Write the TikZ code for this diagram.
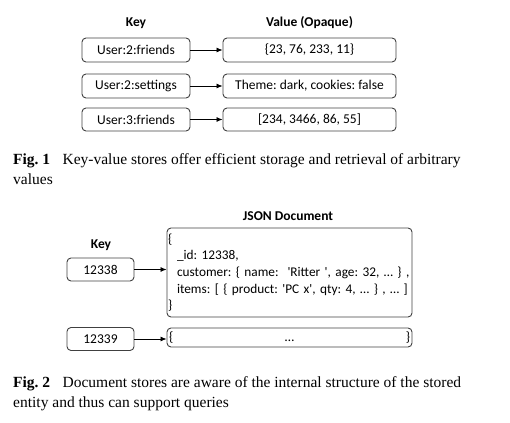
\documentclass[tikz,border=0pt]{standalone}
\usepackage{fontspec}
\setmainfont{Carlito}
\newfontfamily\capfont{Liberation Serif}
\usetikzlibrary{arrows.meta}
\frenchspacing
\begin{document}
\begin{tikzpicture}[x=1pt,y=-1pt,
  box/.style={draw=black!75, line width=0.9pt, rounded corners=4pt, inner sep=0pt, font=\fontsize{13.5}{16}\selectfont\frenchspacing},
  hdr/.style={font=\fontsize{13.5}{16}\selectfont\bfseries, inner sep=0pt},
  arr/.style={line width=0.8pt, -{Latex[length=6pt,width=5pt]}},
  captext/.style={font=\capfont\fontsize{15.5}{20}\selectfont, align=left, inner sep=0pt, anchor=north west}]
\useasboundingbox (0,0) rectangle (510,422);
% Fig 1
\node[hdr] (hkey) at (136,23) {Key};
\node[hdr] (hval) at (309.5,23) {Value (Opaque)};
\node[box, minimum width=108pt, minimum height=24pt] (k1) at (136,50) {User:2:friends};
\node[box, minimum width=108pt, minimum height=24pt] (k2) at (136,86) {User:2:settings};
\node[box, minimum width=108pt, minimum height=23pt] (k3) at (136,119.5) {User:3:friends};
\node[box, minimum width=173pt, minimum height=24pt] (v1) at (309.5,50) {\{23, 76, 233, 11\}};
\node[box, minimum width=173pt, minimum height=24pt] (v2) at (309.5,86) {Theme: dark, cookies: false};
\node[box, minimum width=173pt, minimum height=23pt] (v3) at (309.5,119.5) {[234, 3466, 86, 55]};
\draw[arr] (k1) -- (v1);
\draw[arr] (k2) -- (v2);
\draw[arr] (k3) -- (v3);
\node[captext] (cap1) at (13,153.5) {\textbf{Fig.\ 1}\hspace{0.8em}Key-value stores offer efficient storage and retrieval of arbitrary\\values};
% Fig 2
\node[hdr] (hjson) at (288,216) {JSON Document};
\node[hdr] (hkey2) at (101,245) {Key};
\node[box, minimum width=67pt, minimum height=23pt] (d1k) at (100.5,269.5) {12338};
\node[box, minimum width=67pt, minimum height=23pt] (d2k) at (100.5,339) {12339};
\node[box, font=\fontsize{13.3}{16}\selectfont\frenchspacing, minimum width=245pt, minimum height=89pt, text width=243pt, align=left, inner xsep=1pt] (d1) at (289.5,272.5)
  {\mbox{\{}\\[0.6pt]\mbox{\hspace*{9pt}\_id: 12338,}\\[0.6pt]\mbox{\hspace*{9pt}customer: \{ name:\ \ \textquotesingle Ritter \textquotesingle, age: 32, … \} ,}\\[0.6pt]\mbox{\hspace*{9pt}items: [ \{ product: \textquotesingle PC x\textquotesingle, qty: 4, … \} , … ]}\\[0.6pt]\mbox{\}}};
\node[box, minimum width=245pt, minimum height=19pt, text width=241pt, inner xsep=2pt] (d2) at (289.5,337.5) {\{\hfill…\hfill\}};
\draw[arr] (d1k) -- (d1k -| d1.west);
\draw[arr] (d2k) -- (d2k -| d2.west);
\node[captext] (cap2) at (13,376) {\textbf{Fig.\ 2}\hspace{0.8em}Document stores are aware of the internal structure of the stored\\entity and thus can support queries};
\end{tikzpicture}
\end{document}
